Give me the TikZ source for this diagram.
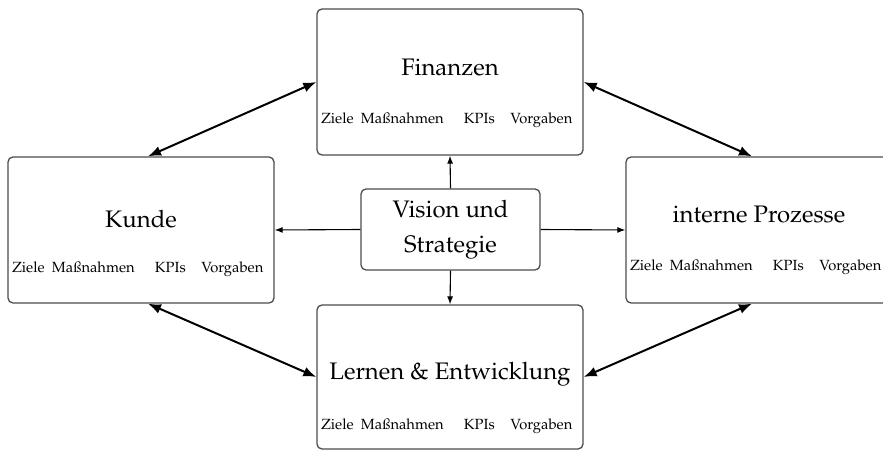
\documentclass[tikz,border=0pt]{standalone}
\usepackage[T1]{fontenc}
\usepackage{mathpazo}
\usetikzlibrary{arrows.meta,calc}

\begin{document}
\begin{tikzpicture}[x=1bp,y=-1bp,
  panel/.style={draw=black!70,line width=1.3bp,rounded corners=5bp,
    minimum width=266bp,inner sep=0pt,fill=white},
  title/.style={font=\fontsize{24}{28}\selectfont,inner sep=0pt},
  item/.style={font=\fontsize{14.8}{17}\selectfont,inner sep=0pt,anchor=base},
  link/.style={line width=2bp,{Latex[length=13bp,width=10bp]}-{Latex[length=13bp,width=10bp]}},
  feed/.style={line width=1.1bp,-{Latex[length=8bp,width=6bp]}}]

\useasboundingbox (0,0) rectangle (883,451);
\begin{scope}
\clip (0,0) rectangle (883,451);

% the four perspectives
\node[panel,minimum height=146bp] (F) at (450,82) {};
\node[panel,minimum height=146bp] (K) at (141,230) {};
\node[panel,minimum height=146bp] (P) at (759,230) {};
\node[panel,minimum height=144bp] (L) at (450,377) {};

% centre box
\node[panel,minimum width=179bp,minimum height=81bp,align=center,
  font=\fontsize{24}{35}\selectfont] (V) at (450.5,229.5) {Vision und\\Strategie};

% titles
\node[title] (Ft) at ($(F.north)+(0,59)$) {Finanzen};
\node[title] (Kt) at ($(K.north)+(0,63)$) {Kunde};
\node[title] (Pt) at ($(P.north)+(0,58)$) {interne Prozesse};
\node[title] (Lt) at ($(L.north)+(0,70)$) {Lernen \& Entwicklung};

% key figures in each panel (common baseline)
\foreach \b/\dy in {F/115,K/116,P/114,L/125}{
  \node[item] (\b z) at ($(\b.north west)+(21,\dy)$) {Ziele};
  \node[item] (\b m) at ($(\b.north west)+(86,\dy)$) {Ma\ss nahmen};
  \node[item] (\b k) at ($(\b.north west)+(163,\dy)$) {KPIs};
  \node[item] (\b v) at ($(\b.north west)+(225,\dy)$) {Vorgaben};
}

% from vision to the perspectives
\draw[feed] (V.north) -- (F.south);
\draw[feed] (V.south) -- (L.north);
\draw[feed] (V.west) -- (K.east);
\draw[feed] (V.east) -- (P.west);

% links between neighbouring perspectives
\coordinate (Kn) at ($(K.north)+(7,0)$);
\coordinate (Ks) at ($(K.south)+(7,0)$);
\coordinate (Pn) at ($(P.north)+(-7,0)$);
\coordinate (Ps) at ($(P.south)+(-7,0)$);
\draw[link] (Kn) -- (F.west);
\draw[link] (F.east) -- (Pn);
\draw[link] (Ks) -- (L.west);
\draw[link] (L.east) -- (Ps);
\end{scope}
\end{tikzpicture}
\end{document}
